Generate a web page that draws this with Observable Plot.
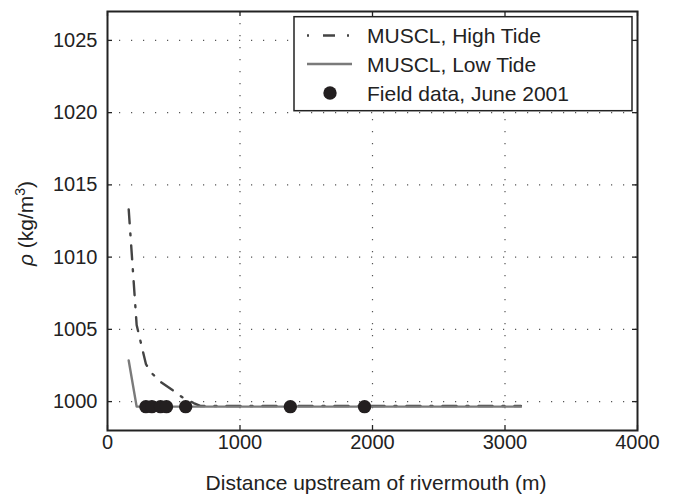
<!DOCTYPE html>
<html>
<head>
<meta charset="utf-8">
<script src="https://cdn.jsdelivr.net/npm/d3@7"></script>
<script src="https://cdn.jsdelivr.net/npm/@observablehq/plot@0.6"></script>
<style>
  html, body { margin: 0; padding: 0; background: #fff; }
  #chart { width: 680px; height: 499px; }
</style>
</head>
<body>
<div id="chart"></div>
<script>
// ---- data ----
const xTicks = [0, 1000, 2000, 3000, 4000];
const yTicks = [1000, 1005, 1010, 1015, 1020, 1025];

const highTideX = [160, 220, 290, 330, 410, 490, 565, 650, 700, 3120];
const highTideY = [1013.3, 1005.3, 1002.6, 1002.0, 1001.3, 1000.8, 1000.3, 999.9, 999.7, 999.7];

const lowTideX = [160, 220, 3120];
const lowTideY = [1002.85, 999.65, 999.65];

const fieldX = [290, 335, 400, 445, 590, 1380, 1940];
const fieldY = [999.65, 999.65, 999.65, 999.65, 999.65, 999.65, 999.65];

const legendLabels = ["MUSCL, High Tide", "MUSCL, Low Tide", "Field data, June 2001"];
const xLabel = "Distance upstream of rivermouth (m)";

// ---- tables ----
const high = highTideX.map((x, i) => ({x, y: highTideY[i]}));
const low = lowTideX.map((x, i) => ({x, y: lowTideY[i]}));
const field = fieldX.map((x, i) => ({x, y: fieldY[i]}));

const W = 680, H = 499, mL = 107, mR = 43, mT = 11, mB = 69;
const innerW = W - mL - mR, innerH = H - mT - mB;
const tickLen = 5;
const ink = "#222";
const highColor = "#444";
const lowColor = "#7a7a7a";
const gridStyle = {stroke: "#555", strokeOpacity: 1, strokeWidth: 1.2, strokeDasharray: "1.2,10.8"};

const chart = Plot.plot({
  width: W, height: H,
  marginLeft: mL, marginRight: mR, marginTop: mT, marginBottom: mB,
  x: {domain: [0, 4000]},
  y: {domain: [998, 1027]},
  style: {fontFamily: "'Liberation Sans', Arial, Helvetica, sans-serif", fontSize: "20px", color: ink, background: "#fff", overflow: "visible"},
  marks: [
    Plot.gridX(xTicks.slice(1, -1), gridStyle),
    Plot.gridY(yTicks, gridStyle),
    Plot.line(high, {x: "x", y: "y", stroke: highColor, strokeWidth: 2.4, strokeDasharray: "14,10,2,10"}),
    Plot.line(low, {x: "x", y: "y", stroke: lowColor, strokeWidth: 2.4}),
    Plot.dot(field, {x: "x", y: "y", r: 6.7, fill: "#231f20", stroke: "none"}),
    // inward ticks on all four sides
    Plot.tickX(xTicks, {x: d => d, insetTop: innerH - tickLen, stroke: ink, strokeWidth: 1.3}),
    Plot.tickX(xTicks, {x: d => d, insetBottom: innerH - tickLen, stroke: ink, strokeWidth: 1.3}),
    Plot.tickY(yTicks, {y: d => d, insetRight: innerW - tickLen, stroke: ink, strokeWidth: 1.3}),
    Plot.tickY(yTicks, {y: d => d, insetLeft: innerW - tickLen, stroke: ink, strokeWidth: 1.3}),
    Plot.axisX(xTicks, {tickSize: 0, tickPadding: 4, fontSize: 20, label: null, tickFormat: d => String(d)}),
    Plot.axisY(yTicks, {tickSize: 0, tickPadding: 10, fontSize: 20, label: null, tickFormat: d => String(d)}),
    Plot.frame({stroke: ink, strokeWidth: 2})
  ]
});

document.getElementById("chart").appendChild(chart);

const svg = d3.select(chart);
const font = "'Liberation Sans', Arial, Helvetica, sans-serif";

// x axis label
svg.append("text")
  .attr("x", mL + innerW / 2 + 4).attr("y", 490)
  .attr("text-anchor", "middle")
  .attr("font-family", font).attr("font-size", 21).attr("fill", ink)
  .text(xLabel);

// y axis label: ρ (kg/m³)
const yl = svg.append("text")
  .attr("transform", `translate(33,${mT + innerH / 2 + 3}) rotate(-90)`)
  .attr("text-anchor", "middle")
  .attr("font-family", font).attr("font-size", 21).attr("fill", ink);
yl.append("tspan").attr("font-style", "italic").text("ρ");
yl.append("tspan").text(" (kg/m");
yl.append("tspan").attr("font-size", 14).attr("dy", -8).text("3");
yl.append("tspan").attr("dy", 8).text(")");

// legend
const lg = svg.append("g");
lg.append("rect").attr("x", 294).attr("y", 16.7).attr("width", 338).attr("height", 94)
  .attr("fill", "#fff").attr("stroke", ink).attr("stroke-width", 1.5);
const rows = [35.5, 64, 93];
lg.append("line").attr("x1", 307).attr("x2", 349).attr("y1", rows[0]).attr("y2", rows[0])
  .attr("stroke", highColor).attr("stroke-width", 2.4).attr("stroke-dasharray", "2,14,12,12,2");
lg.append("line").attr("x1", 307).attr("x2", 352).attr("y1", rows[1]).attr("y2", rows[1])
  .attr("stroke", lowColor).attr("stroke-width", 2.4);
lg.append("circle").attr("cx", 330).attr("cy", rows[2]).attr("r", 6.7).attr("fill", "#231f20");
legendLabels.forEach((t, i) => {
  lg.append("text").attr("x", 367).attr("y", rows[i] + 7.5)
    .attr("text-anchor", "start")
    .attr("font-family", font).attr("font-size", 21).attr("fill", ink).text(t);
});
</script>
</body>
</html>
